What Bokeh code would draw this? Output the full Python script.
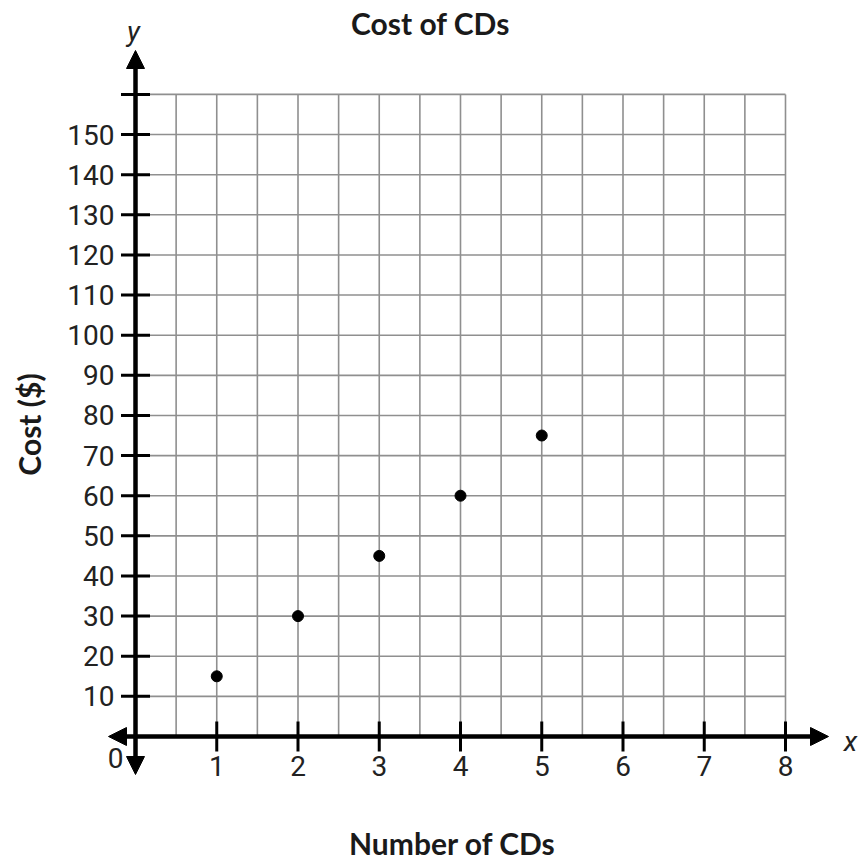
import numpy as np
from bokeh.plotting import figure
from bokeh.models import Arrow, NormalHead
from bokeh.core.properties import value
from bokeh.embed import file_html
from bokeh.resources import INLINE

# ---- data ----
num_cds = [1, 2, 3, 4, 5]
cost = [15, 30, 45, 60, 75]
x_ticks = [1, 2, 3, 4, 5, 6, 7, 8]
x_tick_labels = ["1", "2", "3", "4", "5", "6", "7", "8"]
y_ticks = [10, 20, 30, 40, 50, 60, 70, 80, 90, 100, 110, 120, 130, 140, 150, 160]
y_tick_labels = ["10", "20", "30", "40", "50", "60", "70", "80", "90", "100",
                 "110", "120", "130", "140", "150", ""]
x_grid = [0.5 * i for i in range(1, 17)]
y_grid = [10 * i for i in range(1, 17)]
title_text = "Cost of CDs"
x_title = "Number of CDs"
y_title = "Cost ($)"

# ---- layout (picture pixel -> data) ----
W, H = 859, 861
X0_PX, X_PER = 135.0, 81.25     # px of x=0, px per unit
Y0_PX, Y_PER = 736.0, 4.013     # px of y=0, px per unit


def dx(px):
    return (px - X0_PX) / X_PER


def dy(py):
    return (Y0_PX - py) / Y_PER


p = figure(width=W, height=H, x_range=(dx(0), dx(W)), y_range=(dy(H), dy(0)),
           x_axis_type=None, y_axis_type=None, output_backend="svg",
           toolbar_location=None, min_border=0, outline_line_color=None)
p.xgrid.visible = False
p.ygrid.visible = False

GRID = "#8f8f8f"
XMAX, YMAX = 8, 160
# grid
p.segment(x0=x_grid, y0=[0] * len(x_grid), x1=x_grid, y1=[YMAX] * len(x_grid),
          line_color=GRID, line_width=1.6)
p.segment(x0=[0] * len(y_grid), y0=y_grid, x1=[XMAX] * len(y_grid), y1=y_grid,
          line_color=GRID, line_width=1.6)

# axes with arrows
p.add_layout(Arrow(x_start=dx(108), y_start=0, x_end=dx(828), y_end=0,
                   line_width=4.5, line_color="black",
                   start=NormalHead(size=18, fill_color="black", line_color="black"),
                   end=NormalHead(size=18, fill_color="black", line_color="black")))
p.add_layout(Arrow(x_start=0, y_start=dy(774), x_end=0, y_end=dy(50),
                   line_width=4.5, line_color="black",
                   start=NormalHead(size=18, fill_color="black", line_color="black"),
                   end=NormalHead(size=18, fill_color="black", line_color="black")))

# tick marks
p.scatter(x=[0] * len(y_ticks), y=y_ticks, marker="dash", size=29,
          line_color="black", line_width=3)
p.scatter(x=x_ticks, y=[0] * len(x_ticks), marker="dash", angle=np.pi / 2, size=30,
          line_color="black", line_width=3)

TICK_FONT = value("Roboto")
TICK_SIZE = "28px"
p.text(x=[0] * len(y_ticks), y=y_ticks, text=y_tick_labels, x_offset=-21,
       text_align="right", text_baseline="middle", text_font=TICK_FONT,
       text_font_size=TICK_SIZE, text_color="#222222")
p.text(x=x_ticks, y=[0] * len(x_ticks), text=x_tick_labels, y_offset=19,
       text_align="center", text_baseline="top", text_font=TICK_FONT,
       text_font_size=TICK_SIZE, text_color="#222222")
p.text(x=[dx(115)], y=[dy(757)], text=["0"], text_align="center",
       text_baseline="middle", text_font=TICK_FONT, text_font_size=TICK_SIZE,
       text_color="#222222")

# axis letters
p.text(x=[dx(850)], y=[dy(741)], text=["x"], text_align="center",
       text_baseline="middle", text_font=value("Roboto"),
       text_font_style="italic", text_font_size="28px", text_color="#222222")
p.text(x=[dx(133)], y=[dy(31)], text=["y"], text_align="center",
       text_baseline="middle", text_font=value("Roboto"),
       text_font_style="italic", text_font_size="28px", text_color="#222222")

# titles
TITLE_FONT = value("Lato")
p.text(x=[dx(430)], y=[dy(22)], text=[title_text], text_align="center",
       text_baseline="middle", text_font=TITLE_FONT, text_font_style="bold",
       text_font_size="30px", text_color="#1a1a1a")
p.text(x=[dx(452)], y=[dy(842)], text=[x_title], text_align="center",
       text_baseline="middle", text_font=TITLE_FONT, text_font_style="bold",
       text_font_size="30px", text_color="#1a1a1a")
p.text(x=[dx(28)], y=[dy(424)], text=[y_title], text_align="center",
       text_baseline="middle", angle=np.pi / 2, text_font=TITLE_FONT,
       text_font_style="bold", text_font_size="30px", text_color="#1a1a1a")

# data points
p.scatter(x=num_cds, y=cost, size=11, fill_color="black", line_color="black")

open("out.html", "w").write(file_html(p, INLINE))
